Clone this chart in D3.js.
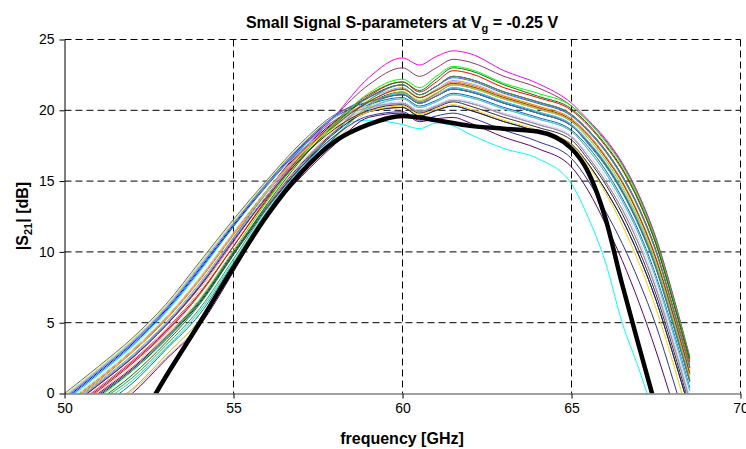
<!DOCTYPE html>
<html>
<head>
<meta charset="utf-8">
<script src="https://cdn.jsdelivr.net/npm/d3@7"></script>
<style>
  body { margin: 0; background: #fff; }
  svg { font-family: "Liberation Sans", Arial, sans-serif; }
</style>
</head>
<body>
<svg id="chart" width="746" height="449"></svg>
<script>
// measured frequency points (GHz)
const freqGHz = [50, 51, 52, 53, 54, 55, 56, 57, 58, 59, 60, 60.5, 61, 61.5, 62, 63, 64, 65, 65.5, 66, 66.5, 67, 67.5, 68, 68.5];

// |S21| in dB, one row per measured device
const s21Traces = [
  [-0.8, 1.0, 3.0, 5.3, 8.1, 11.3, 14.4, 17.1, 19.2, 20.5, 21.1, 20.5, 21.0, 21.5, 21.3, 20.5, 19.8, 18.9, 17.7, 16.2, 14.3, 11.9, 8.9, 5.0, 0.9],
  [-1.4, 0.4, 2.3, 4.5, 7.3, 10.7, 14.0, 17.0, 19.6, 22.3, 23.7, 23.2, 23.8, 24.2, 24.0, 22.8, 21.9, 20.5, 19.3, 18.0, 16.3, 14.0, 11.0, 7.0, 2.6],
  [-0.1, 1.8, 3.8, 6.2, 9.2, 12.2, 15.0, 17.6, 19.6, 20.7, 21.4, 20.8, 21.3, 21.9, 21.7, 20.9, 20.2, 19.3, 18.1, 16.6, 14.8, 12.4, 9.4, 5.5, 1.3],
  [-0.6, 1.3, 3.3, 5.7, 8.6, 11.8, 14.8, 17.2, 18.8, 19.3, 19.0, 18.7, 19.1, 18.9, 18.3, 17.3, 16.6, 14.8, 12.4, 9.3, 5.0, 1.7, -2.0, -6.0, -10.0],
  [-1.8, 0.0, 1.8, 4.0, 6.6, 10.0, 13.3, 16.2, 18.5, 19.9, 20.2, 19.6, 20.0, 20.3, 20.0, 19.2, 18.5, 17.6, 16.2, 14.4, 12.3, 9.7, 6.6, 2.8, -1.2],
  [-1.1, 0.7, 2.6, 4.9, 7.6, 10.9, 14.0, 16.8, 19.0, 20.9, 21.8, 21.1, 21.7, 22.4, 22.2, 21.3, 20.6, 19.7, 18.6, 17.2, 15.4, 13.1, 10.1, 6.1, 1.9],
  [-2.6, -1.0, 0.7, 3.1, 5.6, 9.2, 12.9, 15.8, 18.1, 20.3, 21.1, 20.5, 21.0, 21.5, 21.3, 20.5, 19.8, 18.9, 17.6, 16.1, 14.2, 11.8, 8.8, 4.9, 0.8],
  [-0.4, 1.5, 3.5, 5.9, 8.8, 11.9, 14.8, 17.4, 19.5, 20.6, 21.3, 20.6, 21.2, 21.8, 21.6, 20.8, 20.1, 19.2, 18.1, 16.6, 14.8, 12.4, 9.4, 5.5, 1.3],
  [-0.2, 1.7, 3.7, 6.1, 9.0, 12.0, 14.9, 17.5, 19.6, 20.8, 21.6, 20.9, 21.5, 22.1, 21.9, 21.1, 20.5, 19.6, 18.5, 17.1, 15.3, 13.0, 10.0, 6.0, 1.8],
  [-1.2, 0.6, 2.5, 4.8, 7.6, 11.0, 14.3, 17.3, 19.6, 21.8, 23.0, 22.4, 23.0, 23.6, 23.4, 22.4, 21.6, 20.3, 19.2, 17.9, 16.2, 13.9, 10.9, 6.9, 2.5],
  [-0.9, 0.9, 2.9, 5.2, 8.0, 11.2, 14.3, 17.0, 19.1, 20.6, 21.4, 20.8, 21.3, 21.8, 21.6, 20.8, 20.1, 19.2, 18.1, 16.6, 14.8, 12.4, 9.4, 5.5, 1.3],
  [-1.5, 0.3, 2.2, 4.4, 7.1, 10.4, 13.6, 16.5, 18.8, 20.3, 20.8, 20.2, 20.6, 21.1, 20.9, 20.1, 19.4, 18.5, 17.2, 15.6, 13.6, 11.2, 8.1, 4.3, 0.2],
  [-3.2, -1.6, 0.0, 2.4, 4.8, 8.6, 12.6, 15.3, 17.6, 19.5, 19.8, 19.2, 19.4, 19.5, 19.1, 18.1, 17.3, 16.0, 14.3, 12.0, 9.4, 6.4, 3.0, -0.8, -5.0],
  [-1.9, -0.1, 1.7, 3.9, 6.5, 9.9, 13.3, 16.3, 18.6, 20.4, 21.2, 20.6, 21.1, 21.6, 21.4, 20.6, 19.9, 19.0, 17.8, 16.3, 14.4, 12.0, 9.0, 5.1, 1.0],
  [-0.5, 1.4, 3.4, 5.8, 8.7, 11.8, 14.7, 17.3, 19.3, 20.4, 20.9, 20.3, 20.7, 21.2, 21.0, 20.2, 19.5, 18.6, 17.4, 15.8, 13.8, 11.4, 8.3, 4.5, 0.4],
  [-0.7, 1.1, 3.1, 5.4, 8.2, 11.4, 14.4, 17.0, 19.0, 20.2, 20.6, 20.0, 20.4, 20.8, 20.6, 19.8, 19.1, 18.2, 16.9, 15.3, 13.3, 10.8, 7.7, 3.9, -0.2],
  [-1.0, 0.8, 2.7, 5.0, 7.8, 11.0, 14.2, 16.9, 19.0, 20.5, 21.2, 20.5, 21.0, 21.6, 21.4, 20.6, 19.9, 19.0, 17.8, 16.3, 14.4, 12.0, 9.0, 5.1, 1.0],
  [-2.4, -0.7, 1.0, 3.3, 5.9, 9.4, 13.0, 15.9, 18.3, 20.5, 21.4, 20.8, 21.3, 21.9, 21.7, 20.9, 20.2, 19.3, 18.1, 16.6, 14.8, 12.4, 9.4, 5.5, 1.3],
  [-1.3, 0.5, 2.4, 4.6, 7.3, 10.6, 13.8, 16.7, 19.0, 20.8, 21.7, 21.0, 21.6, 22.2, 22.0, 21.1, 20.4, 19.5, 18.4, 16.9, 15.1, 12.8, 9.8, 5.8, 1.6],
  [-0.2, 1.7, 3.7, 6.1, 9.1, 12.1, 14.9, 17.5, 19.5, 20.3, 20.8, 20.2, 20.6, 21.1, 20.9, 20.1, 19.4, 18.5, 17.2, 15.6, 13.6, 11.2, 8.1, 4.3, 0.2],
  [-3.0, -1.4, 0.2, 2.5, 4.9, 8.7, 12.6, 15.4, 17.8, 19.9, 20.5, 19.9, 20.3, 20.7, 20.5, 19.7, 19.0, 18.1, 16.7, 15.0, 13.0, 10.5, 7.4, 3.6, -0.5],
  [-1.1, 0.7, 2.6, 4.9, 7.7, 10.9, 14.0, 16.8, 18.9, 20.1, 20.5, 19.9, 20.3, 20.7, 20.5, 19.7, 19.0, 18.1, 16.7, 15.0, 13.0, 10.5, 7.4, 3.6, -0.5],
  [-1.7, 0.1, 1.9, 4.1, 6.7, 10.1, 13.4, 16.3, 18.6, 20.2, 20.8, 20.2, 20.6, 21.1, 20.9, 20.1, 19.4, 18.5, 17.2, 15.6, 13.6, 11.2, 8.1, 4.3, 0.2],
  [-0.3, 1.6, 3.6, 6.0, 8.9, 12.0, 14.9, 17.5, 19.6, 20.9, 21.8, 21.1, 21.7, 22.3, 22.1, 21.2, 20.5, 19.6, 18.5, 17.1, 15.3, 13.0, 10.0, 6.0, 1.8],
  [-2.5, -0.8, 0.9, 3.2, 5.8, 9.3, 12.9, 15.9, 18.2, 20.1, 20.8, 20.2, 20.6, 21.1, 20.9, 20.1, 19.4, 18.5, 17.2, 15.6, 13.6, 11.2, 8.1, 4.3, 0.2],
  [-2.9, -1.3, 0.3, 2.7, 5.2, 8.9, 12.7, 15.6, 18.0, 20.3, 21.3, 20.7, 21.2, 21.8, 21.6, 20.8, 20.1, 19.2, 18.0, 16.5, 14.6, 12.2, 9.2, 5.3, 1.1],
  [-0.9, 0.9, 2.9, 5.2, 8.0, 11.2, 14.3, 17.0, 19.1, 20.6, 21.5, 20.9, 21.4, 22.0, 21.8, 21.0, 20.3, 19.4, 18.3, 16.8, 15.0, 12.6, 9.6, 5.7, 1.5],
  [0.0, 1.9, 3.9, 6.3, 9.3, 12.3, 15.1, 17.7, 19.7, 20.6, 21.1, 20.5, 21.0, 21.5, 21.3, 20.5, 19.8, 18.9, 17.7, 16.2, 14.3, 11.9, 8.9, 5.0, 0.9],
  [-0.3, 1.6, 3.6, 6.0, 8.9, 12.0, 14.8, 17.3, 19.3, 20.2, 20.5, 19.9, 20.3, 20.7, 20.5, 19.7, 19.0, 18.1, 16.7, 15.0, 13.0, 10.5, 7.4, 3.6, -0.5],
  [-2.0, -0.2, 1.6, 3.8, 6.4, 9.8, 13.1, 16.0, 18.4, 19.9, 20.2, 19.6, 20.0, 20.3, 20.0, 19.2, 18.5, 17.6, 16.2, 14.4, 12.3, 9.7, 6.6, 2.8, -1.2],
  [-2.3, -0.6, 1.1, 3.4, 6.0, 9.5, 13.1, 16.1, 18.5, 20.7, 21.8, 21.1, 21.7, 22.4, 22.2, 21.3, 20.6, 19.7, 18.6, 17.2, 15.4, 13.1, 10.1, 6.1, 1.9],
  [-1.5, 0.3, 2.2, 4.4, 7.1, 10.4, 13.7, 16.6, 18.9, 20.6, 21.5, 20.9, 21.4, 21.9, 21.7, 20.9, 20.2, 19.3, 18.2, 16.7, 14.9, 12.5, 9.5, 5.6, 1.4],
  [-1.9, -0.1, 1.7, 3.9, 6.5, 9.9, 13.2, 16.0, 18.2, 19.6, 19.9, 19.3, 19.6, 19.8, 19.5, 18.6, 17.8, 16.6, 15.0, 12.9, 10.6, 7.9, 4.8, 1.0, -3.0],
  [-1.6, 0.2, 2.1, 4.3, 7.0, 10.4, 13.8, 16.8, 19.2, 21.1, 22.0, 21.3, 22.0, 22.8, 22.6, 21.6, 20.9, 20.0, 18.9, 17.5, 15.8, 13.5, 10.5, 6.5, 2.2],
  [-2.0, -0.3, 1.6, 3.9, 6.6, 10.1, 13.6, 16.7, 19.1, 21.2, 22.2, 21.6, 22.4, 23.1, 22.9, 21.9, 21.2, 20.3, 19.2, 17.8, 16.1, 13.8, 10.8, 6.8, 2.5],
  [-2.2, -0.5, 1.3, 3.6, 6.3, 9.8, 13.4, 16.5, 19.0, 21.0, 22.0, 21.4, 22.2, 23.0, 22.8, 21.8, 21.0, 20.1, 19.0, 17.6, 15.9, 13.6, 10.6, 6.6, 2.4],
  [-0.8, 1.0, 3.0, 5.3, 8.1, 11.3, 14.3, 16.9, 18.8, 19.9, 20.3, 19.7, 20.1, 20.4, 20.1, 19.3, 18.6, 17.6, 16.1, 14.2, 11.9, 9.2, 6.0, 2.2, -2.0],
  [-1.2, 0.6, 2.5, 4.8, 7.5, 10.8, 13.9, 16.6, 18.7, 20.0, 20.4, 19.8, 20.2, 20.6, 20.3, 19.5, 18.8, 17.9, 16.5, 14.8, 12.7, 10.1, 7.0, 3.2, -0.9]
];

const traceColors = [
  '#000080', '#FF00FF', '#FFFF00', '#00FFFF', '#800080', '#800000', '#008080', '#0000FF',
  '#9999FF', '#993366', '#FFFFCC', '#CCFFFF', '#660066', '#FF8080', '#0066CC', '#CCCCFF',
  '#00CCFF', '#CCFFCC', '#FFFF99', '#99CCFF', '#FF99CC', '#CC99FF', '#FFCC99', '#3366FF',
  '#33CCCC', '#99CC00', '#FF6600', '#666699', '#969696', '#003366', '#339966', '#993300',
  '#333399', '#FF0000', '#00FF00', '#008000', '#FFCC00', '#333333'
];

// thick black curve (fitted model)
const fitFreqGHz = [52.5, 53, 54, 55, 56, 57, 58, 59, 60, 61, 62, 63, 64, 65, 65.5, 66, 66.5, 67, 67.5];
const fitS21 = [-0.8, 1.2, 5.0, 8.9, 12.6, 15.6, 17.8, 19.0, 19.6, 19.3, 18.9, 18.7, 18.5, 17.3, 15.6, 12.4, 7.7, 3.3, -1.0];

const xTicks = [50, 55, 60, 65, 70];
const yTicks = [0, 5, 10, 15, 20, 25];

const svg = d3.select('#chart');

const x = d3.scaleLinear().domain([50, 70]).range([64.5, 740.5]);
const y = d3.scaleLinear().domain([0, 25]).range([393.5, 39.5]);

// dashed grid
svg.append('g')
  .selectAll('line')
  .data(yTicks.filter(t => t > 0))
  .join('line')
    .attr('x1', x(50)).attr('x2', x(70))
    .attr('y1', d => y(d)).attr('y2', d => y(d))
    .attr('stroke', '#000')
    .attr('stroke-dasharray', '7,4');

svg.append('g')
  .selectAll('line')
  .data(xTicks.filter(t => t > 50))
  .join('line')
    .attr('x1', d => x(d)).attr('x2', d => x(d))
    .attr('y1', y(25)).attr('y2', y(0))
    .attr('stroke', '#000')
    .attr('stroke-dasharray', '7,4');

svg.append('clipPath').attr('id', 'plot-clip')
  .append('rect')
    .attr('x', x(50)).attr('y', y(25))
    .attr('width', x(70) - x(50)).attr('height', y(0) - y(25));

const line = d3.line()
  .x((d, i) => x(freqGHz[i]))
  .y(d => y(d))
  .curve(d3.curveMonotoneX);

const plot = svg.append('g').attr('clip-path', 'url(#plot-clip)');

plot.selectAll('path.trace')
  .data(s21Traces)
  .join('path')
    .attr('class', 'trace')
    .attr('fill', 'none')
    .attr('stroke', (d, i) => traceColors[i % traceColors.length])
    .attr('stroke-width', 1)
    .attr('d', line);

const fitLine = d3.line()
  .x((d, i) => x(fitFreqGHz[i]))
  .y(d => y(d))
  .curve(d3.curveMonotoneX);

plot.append('path')
  .attr('fill', 'none')
  .attr('stroke', '#000')
  .attr('stroke-width', 4.5)
  .attr('d', fitLine(fitS21));

// axes
const xAxis = svg.append('g')
  .attr('transform', 'translate(0,' + y(0) + ')')
  .call(d3.axisBottom(x).tickValues(xTicks).tickSize(5).tickSizeOuter(0).tickPadding(5));
xAxis.select('.domain').attr('stroke', '#808080').attr('stroke-width', 1.5);
xAxis.selectAll('.tick line').attr('stroke', '#000');
xAxis.selectAll('text').attr('font-size', 14).attr('fill', '#000')
  .attr('font-family', '"Liberation Sans", Arial, sans-serif');

const yAxis = svg.append('g')
  .attr('transform', 'translate(' + x(50) + ',0)')
  .call(d3.axisLeft(y).tickValues(yTicks).tickSize(5).tickSizeOuter(0).tickPadding(5));
yAxis.select('.domain').attr('stroke', '#000');
yAxis.selectAll('text').attr('font-size', 14).attr('fill', '#000')
  .attr('font-family', '"Liberation Sans", Arial, sans-serif');

// titles
const title = svg.append('text')
  .attr('x', 402).attr('y', 28)
  .attr('text-anchor', 'middle')
  .attr('font-size', 16).attr('font-weight', 'bold');
title.append('tspan').text('Small Signal S-parameters at V');
title.append('tspan').attr('font-size', 11).attr('dy', 4).text('g');
title.append('tspan').attr('dy', -4).text(' = -0.25 V');

svg.append('text')
  .attr('x', 402).attr('y', 444)
  .attr('text-anchor', 'middle')
  .attr('font-size', 16).attr('font-weight', 'bold')
  .text('frequency [GHz]');

const yLabel = svg.append('text')
  .attr('transform', 'translate(28,216) rotate(-90)')
  .attr('text-anchor', 'middle')
  .attr('font-size', 16).attr('font-weight', 'bold');
yLabel.append('tspan').text('|S');
yLabel.append('tspan').attr('font-size', 11).attr('dy', 4).text('21');
yLabel.append('tspan').attr('dy', -4).text('| [dB]');
</script>
</body>
</html>
